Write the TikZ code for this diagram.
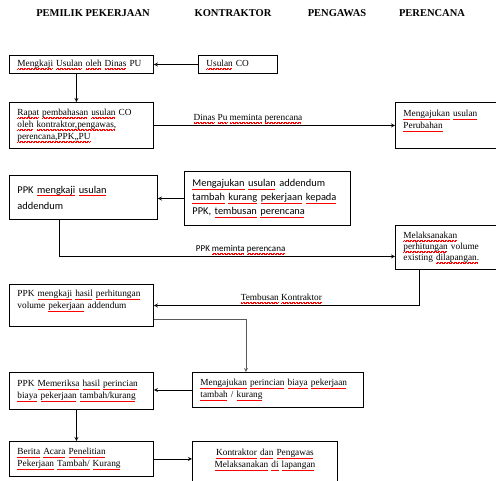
\documentclass[tikz,border=0pt]{standalone}
\usepackage{fontspec}
\setmainfont{Liberation Serif}
\newfontfamily\calib{Carlito}
\usetikzlibrary{positioning}
% red spell-check wave under a word
\newsavebox\sqbox
\newcommand\sq[1]{\leavevmode\sbox\sqbox{#1}\rlap{\color{red}\leaders\hbox{\rule[-2.9pt]{0.7pt}{0.45pt}\rule[-2.4pt]{0.7pt}{0.45pt}}\hskip\wd\sqbox}\usebox\sqbox}

\tikzset{
  box/.style={draw, line width=0.9pt, anchor=north west, align=left, inner xsep=8pt, inner ysep=2pt,
    font=\fontsize{9.3}{12}\selectfont},
  sbox/.style={box, font=\calib\fontsize{10.4}{14}\selectfont},
  head/.style={font=\bfseries\fontsize{10.5}{12}\selectfont},
  lbl/.style={above, font=\fontsize{9.3}{12}\selectfont, inner sep=2pt},
}

\begin{document}
\begin{tikzpicture}[x=1pt,y=-1pt,>=stealth,line width=0.8pt]
  \clip (0,0) rectangle (496,480);
  \fill[white] (0,0) rectangle (496,480);

  % column heads
  \node[head] (hpemilik) at (93,13) {PEMILIK PEKERJAAN};
  \node[head] (hkontraktor) at (233,13) {KONTRAKTOR};
  \node[head] (hpengawas) at (337,13) {PENGAWAS};
  \node[head] (hperencana) at (432,13) {PERENCANA};

  % boxes
  \node[box, text width=128, minimum height=18] (mengkaji) at (9,55)
    {\sq{Mengkaji} \sq{Usulan} \sq{oleh} \sq{Dinas} PU};
  \node[box, text width=63, minimum height=18] (usulan) at (198,55)
    {\sq{Usulan} CO};
  \node[box, text width=128, minimum height=46] (rapat) at (9,102)
    {\sq{Rapat} \sq{pembahasan} \sq{usulan} CO\\ \sq{oleh} \sq{kontraktor,pengawas,}\\ \sq{perencana,PPK,,PU}};
  \node[box, text width=92, minimum height=46] (perubahan) at (395,102)
    {\sq{Mengajukan} \sq{usulan}\\ \sq{Perubahan}\\ \mbox{}};
  \node[sbox, text width=132, minimum height=44] (kajiusul) at (9,175)
    {PPK \sq{mengkaji} \sq{usulan}\\[2pt] addendum};
  \node[sbox, text width=150, minimum height=54] (addendum) at (184,171)
    {\sq{Mengajukan} \sq{usulan} addendum\\ \sq{tambah} \sq{kurang} \sq{pekerjaan} \sq{kepada}\\ PPK, \sq{tembusan} \sq{perencana}};
  \node[box, text width=92, minimum height=44, font=\fontsize{9.3}{11}\selectfont] (hitung) at (395,225)
    {\sq{Melaksanakan}\\ \sq{perhitungan} volume\\ existing \sq{dilapangan.}};
  \node[box, text width=128, minimum height=42] (hasil) at (9,284)
    {PPK \sq{mengkaji} \sq{hasil} \sq{perhitungan}\\ volume \sq{pekerjaan} addendum\\ \mbox{}};
  \node[box, text width=155, minimum height=35] (rincian) at (192,372)
    {\sq{Mengajukan} \sq{perincian} \sq{biaya} \sq{pekerjaan}\\ \sq{tambah} / \sq{kurang}};
  \node[box, text width=128, minimum height=37] (periksa) at (9,372)
    {PPK \sq{Memeriksa} \sq{hasil} \sq{perincian}\\ \sq{biaya} \sq{pekerjaan} \sq{tambah/kurang}};
  \node[box, text width=128, minimum height=35] (berita) at (9,441)
    {\sq{Berita} \sq{Acara} \sq{Penelitian}\\ \sq{Pekerjaan} \sq{Tambah/} \sq{Kurang}};
  \node[box, text width=129, minimum height=46, align=center] (pelaksana) at (192,441)
    {\sq{Kontraktor} \sq{dan} \sq{Pengawas}\\ \sq{Melaksanakan} \sq{di} \sq{lapangan}\\ \mbox{}};

  % connectors
  \draw[->] (usulan) -- (mengkaji);
  \draw[->] ([xshift=-5]mengkaji.south) -- ([xshift=-5]rapat.north);
  \draw[->] (rapat.east) -- node[lbl, pos=0.39] {\sq{Dinas} \sq{Pu} \sq{meminta} \sq{perencana}} (rapat.east -| perubahan.west);
  \draw[->] (addendum.west) -- (addendum.west -| kajiusul.east);
  \draw[->] ([xshift=-24]kajiusul.south) |- node[lbl, pos=0.77, font=\calib\fontsize{9}{12}\selectfont] {PPK \sq{meminta} \sq{perencana}} ([yshift=-9]hitung.west);
  \draw[->] ([xshift=-30]hitung.south) |- node[lbl, pos=0.76] {\sq{Tembusan} \sq{Kontraktor}} (hasil.east);
  \draw[->, gray!70!black] ([yshift=-14]hasil.east) -| ([xshift=-32]rincian.north);
  \draw[->] (rincian.west) -- (rincian.west -| periksa.east);
  \draw[->] ([xshift=-5]periksa.south) -- ([xshift=-5]berita.north);
  \draw[->] (berita.east) -- (berita.east -| pelaksana.west);
\end{tikzpicture}
\end{document}
